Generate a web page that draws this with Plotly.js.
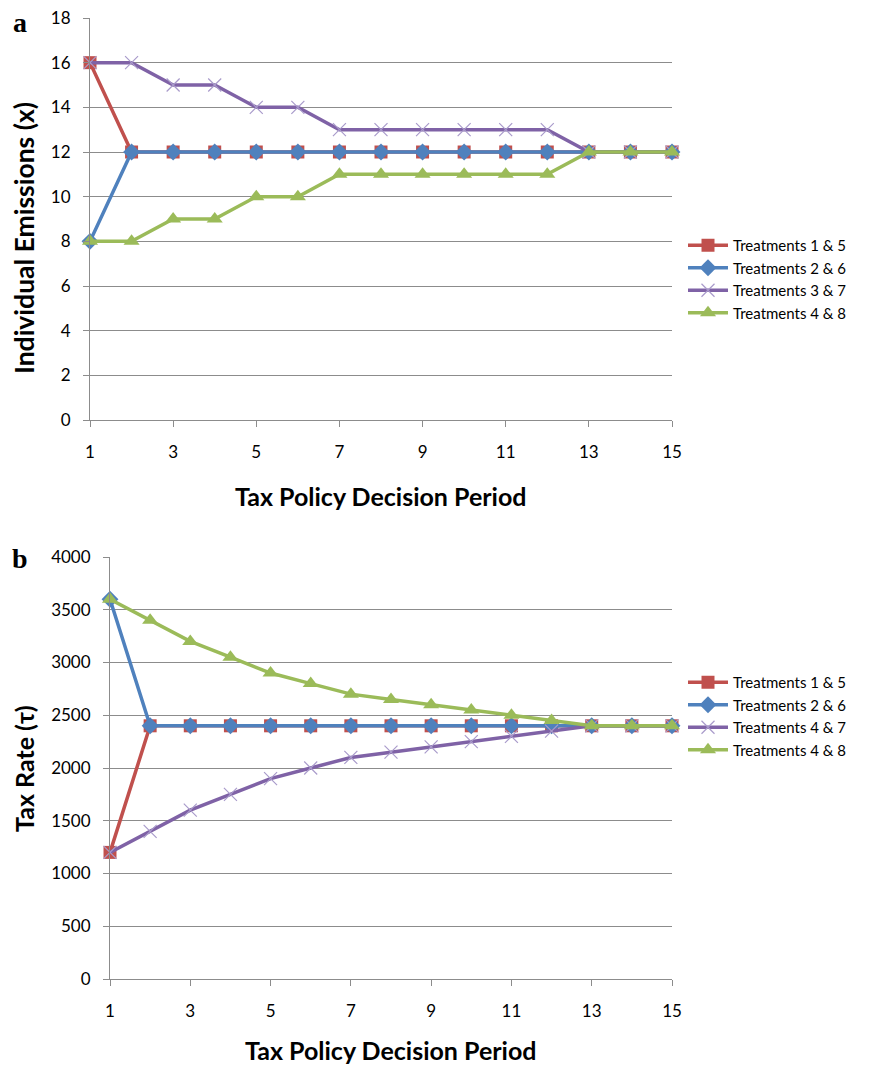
<!DOCTYPE html>
<html>
<head>
<meta charset="utf-8">
<script src="https://cdn.plot.ly/plotly-3.0.1.min.js"></script>
<style>html,body{margin:0;padding:0;background:#fff;}#chart{width:879px;height:1067px;}</style>
</head>
<body>
<div id="chart"></div>
<script>
// ---- data ----
const periods = [1,2,3,4,5,6,7,8,9,10,11,12,13,14,15];
const xTickVals = [1,3,5,7,9,11,13,15];

// panel a: individual emissions
const emisT15 = [16,12,12,12,12,12,12,12,12,12,12,12,12,12,12];
const emisT26 = [8,12,12,12,12,12,12,12,12,12,12,12,12,12,12];
const emisT37 = [16,16,15,15,14,14,13,13,13,13,13,13,12,12,12];
const emisT48 = [8,8,9,9,10,10,11,11,11,11,11,11,12,12,12];
const namesA = ["Treatments 1 & 5","Treatments 2 & 6","Treatments 3 & 7","Treatments 4 & 8"];

// panel b: tax rate
const taxT15 = [1200,2400,2400,2400,2400,2400,2400,2400,2400,2400,2400,2400,2400,2400,2400];
const taxT26 = [3600,2400,2400,2400,2400,2400,2400,2400,2400,2400,2400,2400,2400,2400,2400];
const taxT47 = [1200,1400,1600,1750,1900,2000,2100,2150,2200,2250,2300,2350,2400,2400,2400];
const taxT48 = [3600,3400,3200,3050,2900,2800,2700,2650,2600,2550,2500,2450,2400,2400,2400];
const namesB = ["Treatments 1 & 5","Treatments 2 & 6","Treatments 4 & 7","Treatments 4 & 8"];

// ---- styles ----
const FONT = "Lato, 'Open Sans', sans-serif";
const styles = [
  {color:"#C0504D", marker:{symbol:"square", size:13, color:"#C0504D"}},
  {color:"#4F81BD", marker:{symbol:"diamond", size:13, color:"#4F81BD"}},
  {color:"#7F62A6", marker:{symbol:"x-thin", size:13, color:"#A99BCB", line:{color:"#A99BCB", width:1.2}}},
  {color:"#9BBB59", marker:{symbol:"triangle-up", size:14, color:"#9BBB59"}}
];

function mk(y, name, i, xa, ya, leg){
  return {x:periods, y:y, name:name, type:"scatter", mode:"lines+markers", cliponaxis:false,
    xaxis:xa, yaxis:ya, legend:leg,
    line:{color:styles[i].color, width:3.5}, marker:styles[i].marker};
}

const data = [
  mk(emisT15, namesA[0], 0, "x", "y", "legend"),
  mk(emisT26, namesA[1], 1, "x", "y", "legend"),
  mk(emisT37, namesA[2], 2, "x", "y", "legend"),
  mk(emisT48, namesA[3], 3, "x", "y", "legend"),
  mk(taxT15, namesB[0], 0, "x2", "y2", "legend2"),
  mk(taxT26, namesB[1], 1, "x2", "y2", "legend2"),
  mk(taxT47, namesB[2], 2, "x2", "y2", "legend2"),
  mk(taxT48, namesB[3], 3, "x2", "y2", "legend2")
];

const W = 879, H = 1067;
const fy = p => 1 - p / H;
const fx = p => p / W;

const gridC = "#8C8C8C";
function xax(dom, anchor){
  return {domain:dom, anchor:anchor, range:[1,15], tickvals:xTickVals, ticktext:xTickVals.map(String),
    showgrid:false, zeroline:false, showline:true, linecolor:gridC, linewidth:1,
    ticks:"outside", ticklen:6, tickcolor:gridC, ticklabelstandoff:11,
    tickfont:{family:FONT, size:17, color:"#000"}, automargin:false, fixedrange:true};
}
function yax(dom, anchor, range, dtick){
  return {domain:dom, anchor:anchor, range:range, dtick:dtick, tick0:0,
    showgrid:true, gridcolor:gridC, gridwidth:1, zeroline:false, showline:true, linecolor:gridC, linewidth:1,
    ticks:"outside", ticklen:6, tickcolor:gridC, ticklabelstandoff:9,
    tickfont:{family:FONT, size:17, color:"#000"}, automargin:false, fixedrange:true};
}

function ann(text, px, py, size, angle, family){
  return {text:text, x:fx(px), y:fy(py), xref:"paper", yref:"paper", showarrow:false,
    xanchor:"center", yanchor:"middle", textangle:angle || 0,
    font:{family:family || FONT, size:size, color:"#000"}};
}

const layout = {
  width:W, height:H, margin:{l:0,r:0,t:0,b:0}, paper_bgcolor:"#fff", plot_bgcolor:"#fff",
  showlegend:true,
  xaxis: xax([fx(90), fx(672)], "y"),
  yaxis: yax([fy(420), fy(18)], "x", [0,18], 2),
  xaxis2: xax([fx(110), fx(672)], "y2"),
  yaxis2: yax([fy(979), fy(557)], "x2", [0,4000], 500),
  legend:{x:fx(683), y:fy(229), xanchor:"left", yanchor:"top", bgcolor:"rgba(0,0,0,0)",
    font:{family:FONT, size:15, color:"#000"}, tracegroupgap:0, itemwidth:40},
  legend2:{x:fx(683), y:fy(666), xanchor:"left", yanchor:"top", bgcolor:"rgba(0,0,0,0)",
    font:{family:FONT, size:15, color:"#000"}, tracegroupgap:0, itemwidth:40},
  annotations:[
    ann("<b>a</b>", 20, 22, 28, 0, "'Liberation Serif', serif"),
    ann("<b>b</b>", 20, 558, 28, 0, "'Liberation Serif', serif"),
    ann("<b>Individual Emissions (x)</b>", 24, 238, 26.5, -90),
    ann("<b>Tax Policy Decision Period</b>", 381, 496, 25),
    ann("<b>Tax Rate (τ)</b>", 24, 769, 25, -90),
    ann("<b>Tax Policy Decision Period</b>", 391, 1050, 25)
  ]
};

Plotly.newPlot("chart", data, layout, {displayModeBar:false, staticPlot:true});
</script>
</body>
</html>
